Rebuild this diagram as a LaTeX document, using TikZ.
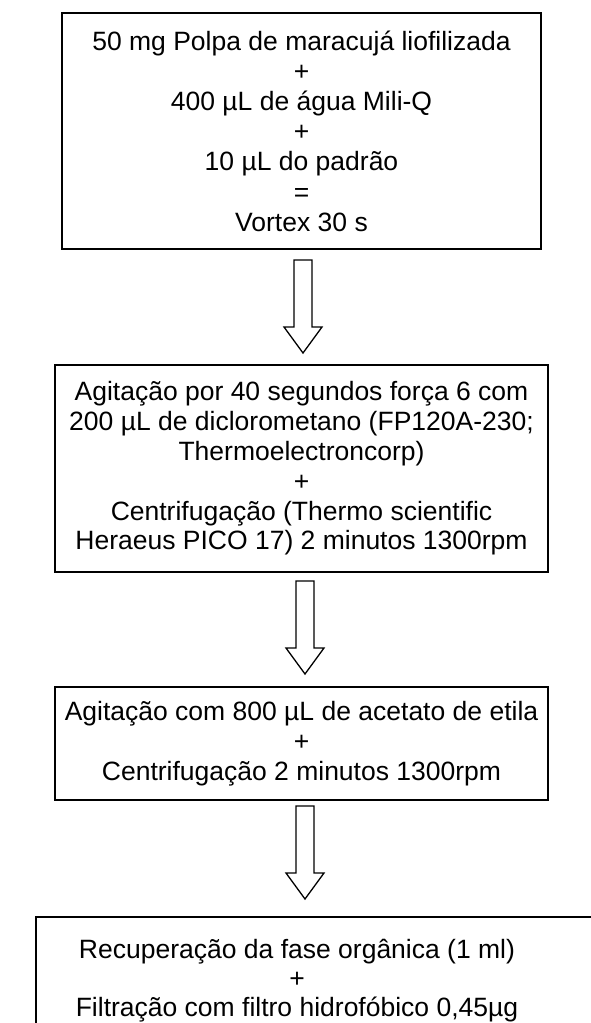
\documentclass[tikz,border=0pt]{standalone}
\usepackage{fontspec}
\setmainfont{Liberation Sans}
\usetikzlibrary{calc}
\tikzset{
  stepbox/.style={draw=black, line width=2pt, inner sep=0pt, align=center,
    font=\fontsize{26.5}{29.8}\selectfont},
  arrowline/.style={draw=black, line width=1.3pt, fill=white, line join=miter},
}
\newcommand\blockarrow[2]{%
  \draw[arrowline] let \p1=(#1), \p2=(#2) in
   (\x1-9pt,\y1) -- (\x1+9pt,\y1) -- (\x1+9pt,\y2+26pt) -- (\x1+19pt,\y2+26pt)
   -- (\x1,\y2) -- (\x1-19pt,\y2+26pt) -- (\x1-9pt,\y2+26pt) -- cycle;}
\begin{document}
\begin{tikzpicture}[x=1pt,y=-1pt]
\path[use as bounding box, fill=white] (0,0) rectangle (591,1023);
\node[stepbox, minimum width=479pt, minimum height=236pt, font=\fontsize{26.5}{30.2}\selectfont]
  (b1) at (301.5,131)
  {50 mg Polpa de maracujá liofilizada\\ +\\ 400 µL de água Mili-Q\\ +\\ 10 µL do padrão\\ =\\ Vortex 30 s};
\node[stepbox, minimum width=493pt, minimum height=207pt] (b2) at (301.5,468.5)
  {Agitação por 40 segundos força 6 com\\ 200 µL de diclorometano (FP120A-230;\\ Thermoelectroncorp)\\ +\\ Centrifugação (Thermo scientific\\ Heraeus PICO 17) 2 minutos 1300rpm};
\node[stepbox, minimum width=493pt, minimum height=113pt] (b3) at (301.5,743.5)
  {Agitação com 800 µL de acetato de etila\\ +\\ Centrifugação 2 minutos 1300rpm};
\node[stepbox, minimum width=585pt, minimum height=144pt, anchor=north west] (b4) at (35,916) {};
\node[font=\fontsize{26.5}{29}\selectfont, align=center, inner sep=0pt] (t4) at (297,981)
  {Recuperação da fase orgânica (1 ml)\\ +\\ Filtração com filtro hidrofóbico 0,45µg};
\coordinate (a1s) at (303,260);  \coordinate (a1e) at (303,353);
\coordinate (a2s) at (305,581);  \coordinate (a2e) at (305,674);
\coordinate (a3s) at (305,806);  \coordinate (a3e) at (305,899);
\blockarrow{a1s}{a1e}
\blockarrow{a2s}{a2e}
\blockarrow{a3s}{a3e}
\end{tikzpicture}
\end{document}
